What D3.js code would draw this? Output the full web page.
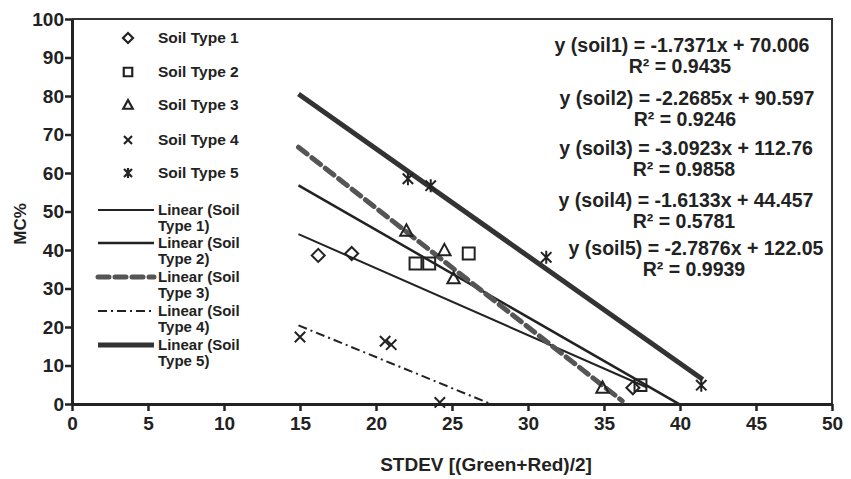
<!DOCTYPE html>
<html><head><meta charset="utf-8">
<script src="https://cdn.jsdelivr.net/npm/d3@7"></script>
<style>body{margin:0;background:#fff}svg{display:block}text{font-family:"Liberation Sans",Arial,sans-serif;font-weight:bold;fill:#222}</style>
</head><body><svg id="c" width="851" height="479"></svg>
<script>
// ---- data ----
const seriesNames = ["Soil Type 1","Soil Type 2","Soil Type 3","Soil Type 4","Soil Type 5"];
const soil1 = [[16.2,38.6],[18.4,39.1],[36.9,4.2]];
const soil2 = [[22.6,36.5],[23.5,36.5],[26.1,39.1],[37.4,4.9]];
const soil3 = [[22.0,45.0],[24.5,39.9],[25.1,32.6],[34.9,4.2]];
const soil4 = [[15.0,17.4],[20.6,16.3],[21.0,15.4],[24.2,0.4]];
const soil5 = [[22.1,58.5],[23.6,56.7],[31.2,38.1],[41.4,4.9]];
const slopes = [-1.7371,-2.2685,-3.0923,-1.6133,-2.7876];
const intercepts = [70.006,90.597,112.76,44.457,122.05];
const r2 = ["0.9435","0.9246","0.9858","0.5781","0.9939"];
const trendFrom = [14.9,14.9,14.9,14.9,14.9];
const trendTo = [37.8,40.0,36.2,27.4,41.5];
const xTicks = [0,5,10,15,20,25,30,35,40,45,50];
const yTicks = [0,10,20,30,40,50,60,70,80,90,100];
const xTitle = "STDEV [(Green+Red)/2]";
const yTitle = "MC%";

// ---- layout ----
const svg = d3.select("#c");
const L=72,R=832,T=19,B=404;
const x = d3.scaleLinear().domain([0,50]).range([L,R]);
const y = d3.scaleLinear().domain([0,100]).range([B,T]);
const ink="#222";

svg.append("path").attr("d",`M${L},${T}H${R}V${B}`).attr("fill","none").attr("stroke","#333").attr("stroke-width",2);

const xa = svg.append("g").attr("transform",`translate(0,${B})`).call(d3.axisBottom(x).tickValues(xTicks).tickSize(7).tickSizeOuter(0));
const ya = svg.append("g").attr("transform",`translate(${L},0)`).call(d3.axisLeft(y).tickValues(yTicks).tickSize(7).tickSizeOuter(0));
[xa,ya].forEach(g=>{g.select(".domain").attr("stroke",ink).attr("stroke-width",3);
  g.selectAll(".tick line").attr("stroke",ink).attr("stroke-width",2.5);
  g.selectAll("text").attr("fill",ink).style("font-size","19px").style("font-family","Liberation Sans, Arial, sans-serif").style("font-weight","bold");});
xa.selectAll("text").attr("dy","0.95em").attr("y",8);
ya.selectAll("text").attr("x",-8);

svg.append("text").attr("x",486).attr("y",471).attr("text-anchor","middle").style("font-size","19px").text(xTitle);
svg.append("text").attr("transform","translate(26,224) rotate(-90)").attr("text-anchor","middle").style("font-size","17px").text(yTitle);

function marker(type, s){
  const h=s;
  switch(type){
    case 0: return `M0,${-h}L${h},0L0,${h}L${-h},0Z`;
    case 1: return `M${-h*0.85},${-h*0.85}H${h*0.85}V${h*0.85}H${-h*0.85}Z`;
    case 2: return `M0,${-h}L${h*0.95},${h*0.75}H${-h*0.95}Z`;
    case 3: return `M${-h*0.8},${-h*0.8}L${h*0.8},${h*0.8}M${h*0.8},${-h*0.8}L${-h*0.8},${h*0.8}`;
    case 4: return `M${-h*0.8},${-h*0.8}L${h*0.8},${h*0.8}M${h*0.8},${-h*0.8}L${-h*0.8},${h*0.8}M0,${-h}V${h}`;
  }
}
const allData=[soil1,soil2,soil3,soil4,soil5];
const lineStyles=[
  {w:2,dash:null,c:"#222"},
  {w:2.5,dash:null,c:"#222"},
  {w:5,dash:"11,6",c:"#555"},
  {w:2,dash:"9,4,2,4",c:"#222"},
  {w:5,dash:null,c:"#333"}];

slopes.forEach((m,i)=>{
  const pts=[trendFrom[i],trendTo[i]].map(v=>[v,m*v+intercepts[i]]);
  const st=lineStyles[i];
  svg.append("path").attr("d",d3.line().x(d=>x(d[0])).y(d=>y(d[1]))(pts))
    .attr("fill","none").attr("stroke",st.c).attr("stroke-width",st.w)
    .attr("stroke-dasharray",st.dash).attr("stroke-linecap",i===2?"round":"butt");
});
allData.forEach((ser,i)=>{
  svg.append("g").selectAll("path").data(ser).join("path")
    .attr("transform",d=>`translate(${x(d[0])},${y(d[1])})`)
    .attr("d",marker(i,i===1?7:6.5)).attr("fill","none").attr("stroke",ink).attr("stroke-width",2);
});

const legMarkY=[38,72,105,140,173];
seriesNames.forEach((n,i)=>{
  svg.append("path").attr("transform",`translate(128,${legMarkY[i]})`).attr("d",marker(i,5)).attr("fill","none").attr("stroke",ink).attr("stroke-width",2.2);
  svg.append("text").attr("x",158).attr("y",legMarkY[i]).attr("dy","0.35em").style("font-size","15.5px").text(n);
});
const legLineY=[210,243,277,311,345];
seriesNames.forEach((n,i)=>{
  const st=lineStyles[i];
  svg.append("line").attr("x1",98).attr("x2",154).attr("y1",legLineY[i]).attr("y2",legLineY[i])
    .attr("stroke",st.c).attr("stroke-width",st.w).attr("stroke-dasharray",st.dash).attr("stroke-linecap",i===2?"round":"butt");
  svg.append("text").attr("x",158).attr("y",legLineY[i]).attr("dy","0.35em").style("font-size","15px").text("Linear (Soil");
  svg.append("text").attr("x",158).attr("y",legLineY[i]+16).attr("dy","0.35em").style("font-size","15px").text("Type "+(i+1)+")");
});

const eqX=[682,687,686,686,696];
const eqY=[45,98,148,200,248];
slopes.forEach((m,i)=>{
  svg.append("text").attr("x",eqX[i]).attr("y",eqY[i]).attr("dy","0.35em").attr("text-anchor","middle").style("font-size","19.5px")
    .text(`y (soil${i+1}) = ${m}x + ${intercepts[i]}`);
  svg.append("text").attr("x",eqX[i]-2).attr("y",eqY[i]+21).attr("dy","0.35em").attr("text-anchor","middle").style("font-size","19.5px")
    .text(`R² = ${r2[i]}`);
});
</script></body></html>
